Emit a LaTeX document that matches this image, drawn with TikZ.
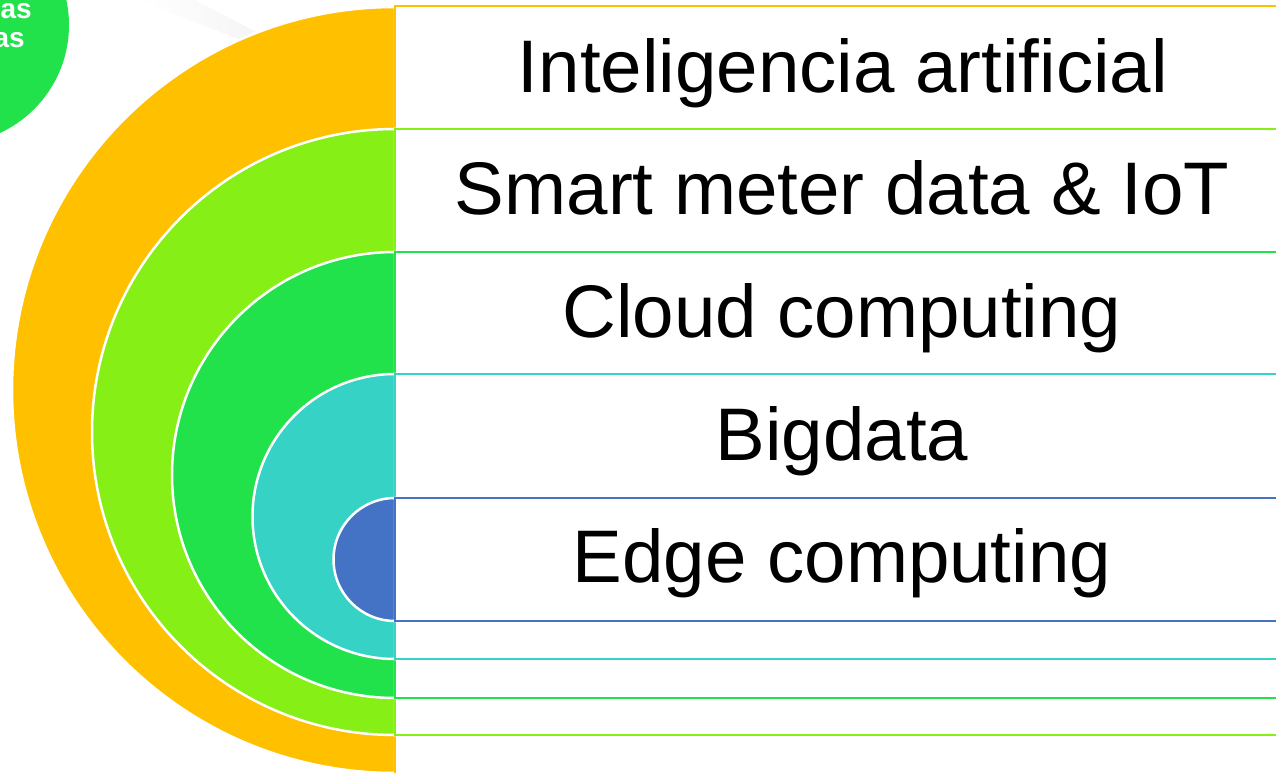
\documentclass[tikz,border=0pt]{standalone}
\usepackage{fontspec}
\setmainfont{Liberation Sans}
\definecolor{cOrange}{HTML}{FFC000}
\definecolor{cLime}{HTML}{86EF15}
\definecolor{cGreen}{HTML}{22E24C}
\definecolor{cTeal}{HTML}{35D2C5}
\definecolor{cBlue}{HTML}{4472C4}
\tikzset{
  halfdisk/.style={fill=#1, draw=white, line width=2.5pt},
  band/.style={draw=#1, fill=white, line width=2pt},
  label/.style={anchor=base, inner sep=0pt, font=\fontsize{74.5}{90}\selectfont},
  badge/.style={anchor=base east, inner sep=0pt, text=white, font=\bfseries\fontsize{28}{32}\selectfont}
}
\begin{document}
\begin{tikzpicture}[x=1pt,y=1pt]
\useasboundingbox (0,0) rectangle (1276,772);
\clip (0,0) rectangle (1276,772);
% faint shadow
\shade[left color=white, right color=black!4] (138,772) -- (195,772) -- (262,737) -- (246,730) -- cycle;
% green badge circle
\fill[cGreen] (-50,747) circle (119);
\node[badge] (as1) at (32,753) {as};
\node[badge] (as2) at (25,724) {as};
% orange
\draw[halfdisk=cOrange] (395,765) arc (90:270:383) -- cycle;
\draw[band=cOrange] (395,-5) rectangle (1290,766);
% lime
\draw[halfdisk=cLime] (395,643) arc (90:270:303) -- cycle;
\draw[band=cLime] (395,37) rectangle (1290,643);
% green
\draw[halfdisk=cGreen] (395,520) arc (90:270:223) -- cycle;
\draw[band=cGreen] (395,74) rectangle (1290,520);
% teal
\draw[halfdisk=cTeal] (395,398) arc (90:270:142.5) -- cycle;
\draw[band=cTeal] (395,113) rectangle (1290,398);
% blue
\draw[halfdisk=cBlue] (395,274) arc (90:270:61.5) -- cycle;
\draw[band=cBlue] (395,151) rectangle (1290,274);
% labels
\node[label] (t1) at (843,679) {Inteligencia artificial};
\node[label] (t2) at (842,557) {Smart meter data \& IoT};
\node[label] (t3) at (842,434.5) {Cloud computing};
\node[label] (t4) at (842,312) {Bigdata};
\node[label] (t5) at (842,189.5) {Edge computing};
\end{tikzpicture}
\end{document}
